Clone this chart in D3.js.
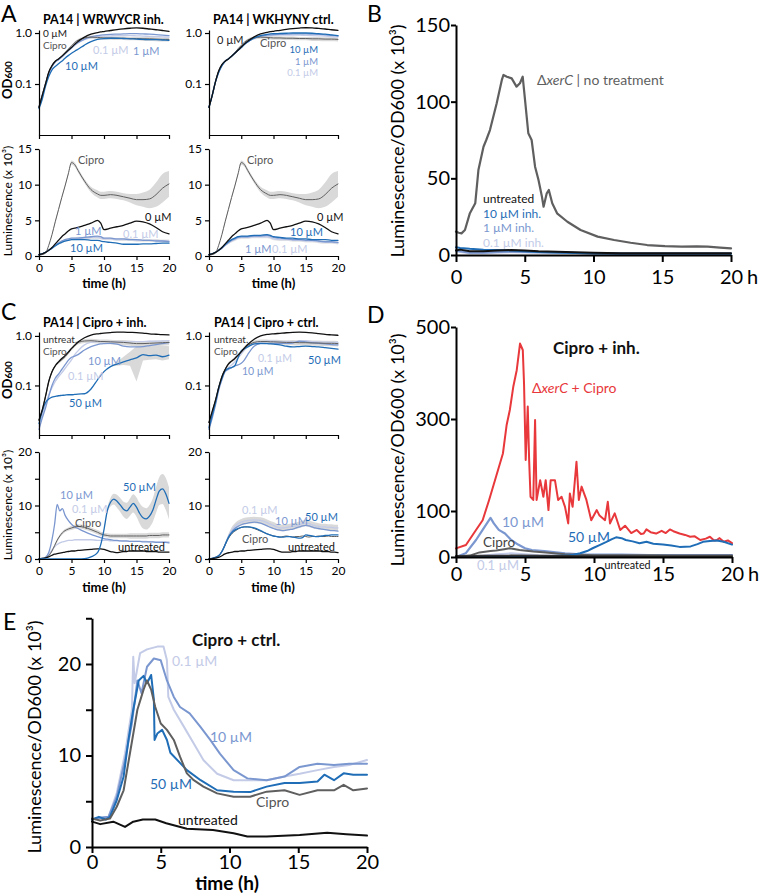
<!DOCTYPE html>
<html><head><meta charset="utf-8">
<script src="https://cdn.jsdelivr.net/npm/d3@7"></script>
<style>body{margin:0;background:#fff}</style>
</head><body><script>
// ---------------- DATA ----------------
const tA = [0,0.5,1,1.5,2,2.5,3,3.5,4,4.5,5,5.5,6,7,8,9,9.5,10,11,12,13,14,15,16,17,18,19,20];
// Panel A OD600 (inhibitor WRWYCR)
const odA_inh_0   = [0.035,0.06,0.10,0.17,0.23,0.28,0.31,0.35,0.40,0.46,0.52,0.60,0.68,0.83,0.95,1.02,1.05,1.07,1.12,1.17,1.21,1.24,1.26,1.24,1.20,1.16,1.12,1.08];
const odA_inh_cip = [0.035,0.06,0.10,0.17,0.23,0.28,0.31,0.35,0.41,0.48,0.56,0.65,0.72,0.80,0.83,0.82,0.81,0.80,0.80,0.79,0.79,0.78,0.78,0.77,0.77,0.76,0.75,0.75];
const odA_inh_1   = [0.035,0.06,0.10,0.16,0.22,0.27,0.30,0.34,0.39,0.45,0.51,0.58,0.65,0.76,0.84,0.89,0.91,0.92,0.94,0.95,0.96,0.97,0.97,0.96,0.95,0.93,0.91,0.89];
const odA_inh_01  = [0.035,0.06,0.10,0.16,0.22,0.27,0.30,0.34,0.39,0.45,0.51,0.58,0.64,0.74,0.81,0.85,0.86,0.87,0.88,0.89,0.89,0.89,0.88,0.87,0.86,0.85,0.84,0.83];
const odA_inh_10  = [0.033,0.05,0.09,0.14,0.19,0.22,0.25,0.28,0.32,0.36,0.40,0.44,0.48,0.58,0.68,0.75,0.77,0.78,0.79,0.79,0.78,0.77,0.76,0.75,0.74,0.74,0.73,0.72];
const odA_cip_sd  = [0,0,0,0,0,0,0,0.01,0.01,0.02,0.02,0.03,0.04,0.05,0.06,0.06,0.06,0.06,0.06,0.06,0.06,0.06,0.06,0.07,0.07,0.07,0.07,0.07];
// Panel A OD600 (control WKHYNY)
const odA_ctl_0   = [0.035,0.06,0.11,0.18,0.24,0.28,0.31,0.35,0.40,0.46,0.53,0.61,0.69,0.84,0.96,1.03,1.06,1.08,1.13,1.18,1.22,1.25,1.27,1.26,1.23,1.20,1.16,1.13];
const odA_ctl_cip = [0.035,0.06,0.11,0.18,0.24,0.28,0.31,0.35,0.41,0.49,0.57,0.66,0.73,0.80,0.83,0.82,0.81,0.80,0.80,0.79,0.79,0.78,0.78,0.77,0.77,0.76,0.76,0.75];
const odA_ctl_10  = [0.035,0.06,0.11,0.17,0.23,0.28,0.31,0.35,0.40,0.46,0.52,0.60,0.67,0.80,0.89,0.94,0.96,0.97,0.98,0.99,1.00,1.00,1.00,0.99,0.97,0.95,0.92,0.89];
const odA_ctl_1   = [0.035,0.06,0.11,0.17,0.23,0.28,0.31,0.35,0.40,0.46,0.52,0.60,0.67,0.79,0.87,0.91,0.92,0.93,0.94,0.95,0.96,0.96,0.96,0.95,0.94,0.92,0.90,0.88];
const odA_ctl_01  = [0.035,0.06,0.11,0.17,0.23,0.28,0.31,0.35,0.40,0.46,0.52,0.60,0.67,0.78,0.85,0.88,0.89,0.90,0.91,0.91,0.91,0.91,0.90,0.89,0.88,0.87,0.85,0.84];
// Panel A luminescence (x10^3)
const lumA_cip    = [0.1,0.2,0.4,1.5,3.0,4.8,6.5,8.2,9.8,11.5,13.1,12.8,12.0,10.5,9.3,8.7,8.5,8.5,8.6,8.5,8.3,8.1,7.9,7.9,8.0,8.6,9.5,10.1];
const lumA_cip_sd = [0,0,0,0,0.1,0.2,0.2,0.2,0.2,0.2,0.3,0.3,0.3,0.3,0.4,0.5,0.5,0.5,0.5,0.5,0.5,0.6,0.8,1.0,1.3,1.7,2.0,1.8];
const lumA_0      = [0.2,0.3,0.5,0.8,1.2,1.7,2.2,2.7,3.1,3.5,3.8,3.9,4.0,4.3,4.6,5.0,4.6,3.7,3.9,4.1,4.3,4.6,4.9,4.8,4.5,4.0,3.4,3.1];
const lumA_inh_1  = [0.2,0.3,0.5,0.8,1.1,1.5,1.8,2.1,2.3,2.4,2.5,2.5,2.5,2.6,2.7,2.8,2.7,2.5,2.5,2.4,2.4,2.3,2.3,2.2,2.2,2.1,2.1,2.0];
const lumA_inh_01 = [0.2,0.3,0.5,0.8,1.1,1.5,1.8,2.0,2.2,2.3,2.4,2.4,2.5,2.5,2.6,2.6,2.5,2.4,2.4,2.3,2.3,2.3,2.2,2.2,2.2,2.2,2.1,2.1];
const lumA_inh_10 = [0.2,0.3,0.5,0.8,1.1,1.4,1.7,1.9,2.1,2.2,2.3,2.3,2.3,2.3,2.2,2.2,2.1,2.0,1.9,1.8,1.65,1.65,1.65,1.7,1.7,1.75,1.8,1.8];
const lumA_ctl_10 = [0.2,0.3,0.5,0.8,1.2,1.6,2.0,2.3,2.5,2.7,2.8,2.8,2.8,2.9,2.9,3.0,2.9,2.7,2.6,2.5,2.5,2.4,2.4,2.3,2.3,2.3,2.2,2.2];
const lumA_ctl_1  = [0.2,0.3,0.5,0.8,1.1,1.5,1.9,2.2,2.4,2.6,2.7,2.7,2.7,2.8,2.8,2.9,2.8,2.6,2.5,2.4,2.3,2.3,2.2,2.2,2.1,2.0,2.0,1.9];
const lumA_ctl_01 = [0.2,0.3,0.5,0.8,1.1,1.5,1.8,2.1,2.3,2.5,2.6,2.6,2.6,2.7,2.7,2.7,2.6,2.4,2.3,2.3,2.2,2.2,2.1,2.1,2.0,1.9,1.9,1.8];
const lumA_01_sd  = [0,0,0,0.05,0.1,0.15,0.15,0.2,0.2,0.2,0.2,0.2,0.2,0.2,0.2,0.2,0.2,0.2,0.2,0.2,0.2,0.2,0.2,0.2,0.2,0.2,0.2,0.2];
// Panel C OD600 (Cipro + inhibitor)
const odC_inh_u   = [0.02,0.032,0.06,0.12,0.19,0.25,0.30,0.35,0.40,0.47,0.56,0.65,0.75,0.92,1.04,1.10,1.12,1.14,1.17,1.19,1.19,1.18,1.17,1.14,1.10,1.08,1.06,1.05];
const odC_inh_cip = [0.02,0.032,0.06,0.12,0.19,0.25,0.29,0.33,0.38,0.45,0.55,0.65,0.73,0.79,0.80,0.78,0.77,0.77,0.76,0.75,0.74,0.72,0.70,0.70,0.71,0.72,0.73,0.74];
const odC_inh_01  = [0.015,0.025,0.04,0.065,0.09,0.12,0.15,0.18,0.22,0.27,0.33,0.42,0.50,0.66,0.74,0.77,0.77,0.77,0.77,0.76,0.76,0.76,0.77,0.77,0.78,0.78,0.79,0.80];
const odC_inh_10  = [0.013,0.022,0.035,0.06,0.10,0.14,0.17,0.21,0.26,0.32,0.37,0.39,0.42,0.52,0.61,0.67,0.69,0.70,0.71,0.68,0.62,0.60,0.60,0.61,0.64,0.67,0.70,0.73];
const odC_inh_50  = [0.017,0.03,0.045,0.053,0.058,0.06,0.062,0.063,0.064,0.065,0.065,0.066,0.067,0.068,0.085,0.13,0.16,0.19,0.24,0.27,0.30,0.33,0.36,0.42,0.40,0.41,0.38,0.41];
const odC_50_lo   = [0.017,0.03,0.045,0.053,0.058,0.06,0.062,0.063,0.064,0.065,0.065,0.066,0.067,0.068,0.085,0.13,0.16,0.19,0.24,0.25,0.26,0.25,0.12,0.32,0.33,0.34,0.32,0.34];
const odC_50_hi   = [0.017,0.03,0.045,0.053,0.058,0.06,0.062,0.063,0.064,0.065,0.065,0.066,0.067,0.068,0.085,0.13,0.16,0.19,0.24,0.30,0.38,0.48,0.62,0.70,0.68,0.66,0.64,0.62];
const odC_cip_sd  = [0,0,0,0,0.01,0.01,0.02,0.02,0.03,0.03,0.04,0.05,0.06,0.07,0.08,0.08,0.08,0.08,0.08,0.08,0.09,0.09,0.09,0.09,0.09,0.09,0.09,0.09];
// Panel C OD600 (Cipro + control)
const odC_ctl_u   = [0.018,0.03,0.05,0.09,0.15,0.21,0.27,0.31,0.35,0.41,0.48,0.57,0.67,0.86,1.00,1.07,1.09,1.10,1.13,1.16,1.18,1.19,1.18,1.15,1.11,1.07,1.05,1.03];
const odC_ctl_cip = [0.018,0.03,0.05,0.09,0.15,0.21,0.27,0.31,0.35,0.41,0.48,0.57,0.64,0.74,0.77,0.77,0.76,0.76,0.75,0.74,0.74,0.73,0.73,0.72,0.72,0.71,0.71,0.70];
const odC_ctl_50  = [0.014,0.025,0.045,0.09,0.14,0.20,0.22,0.23,0.25,0.36,0.50,0.55,0.60,0.69,0.71,0.70,0.69,0.68,0.66,0.62,0.60,0.61,0.62,0.61,0.60,0.58,0.56,0.54];
const odC_ctl_10  = [0.013,0.022,0.04,0.08,0.13,0.19,0.21,0.23,0.25,0.26,0.28,0.33,0.42,0.62,0.70,0.71,0.71,0.71,0.71,0.71,0.72,0.78,0.76,0.73,0.71,0.69,0.67,0.66];
const odC_ctl_01  = [0.015,0.025,0.045,0.085,0.14,0.20,0.23,0.26,0.30,0.36,0.43,0.52,0.60,0.72,0.76,0.78,0.78,0.78,0.77,0.77,0.77,0.78,0.80,0.77,0.76,0.75,0.74,0.74];
// Panel C luminescence
const tCL = [0,0.5,1,1.5,2,2.4,2.8,3.2,3.6,4,4.5,5,5.5,6,7,8,9,9.5,10,10.5,11,11.5,12,12.5,13,13.5,14,14.5,15,15.5,16,16.5,17,17.5,18,18.5,19,19.5,20];
const lumC_inh_10 = [0,0.1,0.3,1.2,3.6,6.5,10.2,9.0,9.4,8.2,7.2,6.5,6.0,5.7,5.1,4.6,4.2,4.0,3.8,3.7,3.6,3.5,3.5,3.4,3.4,3.4,3.3,3.3,3.3,3.3,3.2,3.2,3.2,3.2,3.1,3.1,3.1,3.1,3.0];
const lumC_inh_01 = [0,0.1,0.2,0.8,1.7,2.3,2.7,3.0,3.2,3.3,3.5,3.5,3.6,3.6,3.6,3.6,3.5,3.5,3.5,3.5,3.4,3.4,3.4,3.4,3.3,3.3,3.3,3.3,3.3,3.3,3.3,3.3,3.2,3.2,3.2,3.2,3.2,3.2,3.2];
const lumC_inh_cip= [0,0.1,0.2,0.6,1.5,2.5,3.5,4.3,4.9,5.3,5.6,5.8,6.0,6.1,5.9,5.5,5.0,4.7,4.5,4.4,4.3,4.3,4.3,4.3,4.3,4.3,4.3,4.3,4.3,4.3,4.3,4.3,4.4,4.4,4.4,4.4,4.5,4.5,4.5];
const lumC_cip_sd = [0,0,0,0.1,0.2,0.3,0.3,0.3,0.3,0.3,0.3,0.4,0.4,0.4,0.4,0.4,0.4,0.4,0.4,0.4,0.4,0.4,0.4,0.4,0.4,0.4,0.5,0.5,0.5,0.5,0.5,0.5,0.5,0.5,0.5,0.5,0.5,0.5,0.5];
const lumC_inh_u  = [0,0.1,0.2,0.4,0.7,0.9,1.0,1.1,1.2,1.3,1.4,1.5,1.5,1.6,1.7,1.8,1.9,1.9,1.8,1.6,1.4,1.3,1.2,1.3,1.4,1.4,1.5,1.5,1.5,1.5,1.5,1.4,1.4,1.4,1.4,1.3,1.3,1.3,1.3];
const lumC_inh_50 = [0,0,0,0,0,0,0,0,0,0,0,0,0,0,0.05,0.4,1.2,2.7,5.5,9.0,10.6,11.2,10.8,10.1,9.3,9.0,9.7,10.4,9.7,8.5,7.7,7.5,8.0,9.1,11.0,12.7,13.1,12.2,10.4];
const lumC_50_sd  = [0,0,0,0,0,0,0,0,0,0,0,0,0,0,0,0,0,0,0.2,0.5,0.8,1.0,1.2,1.3,1.4,1.5,1.6,1.7,1.8,1.9,2.0,2.0,2.1,2.2,2.4,2.6,2.8,3.0,3.0];
const lumC_ctl_01 = [0,0.1,0.3,0.6,1.4,2.4,3.6,4.7,5.5,6.1,6.6,6.9,7.1,7.2,7.3,7.2,6.8,6.5,6.3,6.0,5.8,5.8,5.9,6.0,6.1,6.2,6.4,6.6,6.7,6.6,6.4,6.2,6.1,6.0,6.0,5.9,5.9,5.8,5.8];
const lumC_ctl_10 = [0,0.1,0.3,0.6,1.4,2.4,3.5,4.5,5.2,5.7,6.1,6.4,6.6,6.7,6.9,6.7,6.2,5.9,5.7,5.5,5.4,5.3,5.4,5.5,5.6,5.8,6.0,6.2,6.3,6.2,6.0,5.8,5.7,5.6,5.5,5.4,5.3,5.3,5.2];
const lumC_ctl_50 = [0,0.1,0.3,0.6,1.4,2.4,3.5,4.4,5.0,5.4,5.7,5.9,6.0,6.0,5.8,5.3,4.7,4.5,4.3,4.2,4.1,4.1,4.2,4.2,4.1,4.0,3.9,4.0,4.5,4.4,4.3,4.2,4.2,4.3,4.4,4.4,4.5,4.5,4.5];
const lumC_ctl_cip= [0,0.1,0.3,0.6,1.4,2.4,3.4,4.2,4.8,5.2,5.6,5.9,6.0,6.0,5.7,5.2,4.7,4.5,4.3,4.2,4.1,4.2,4.3,4.2,4.1,4.2,4.2,4.3,4.2,4.1,4.2,4.2,4.3,4.2,4.2,4.3,4.2,4.2,4.2];
const lumC_ctl_u  = [0,0.05,0.15,0.3,0.6,0.9,1.1,1.2,1.3,1.4,1.4,1.5,1.5,1.6,1.7,1.8,1.9,1.9,1.8,1.6,1.4,1.3,1.3,1.3,1.4,1.4,1.5,1.5,1.5,1.5,1.5,1.5,1.5,1.4,1.4,1.4,1.3,1.3,1.2];
const lumC_ctl_sd = [0,0,0,0.1,0.2,0.3,0.4,0.5,0.6,0.6,0.6,0.6,0.6,0.6,0.6,0.6,0.6,0.6,0.6,0.6,0.6,0.6,0.6,0.6,0.6,0.6,0.6,0.6,0.6,0.6,0.6,0.6,0.6,0.6,0.6,0.6,0.6,0.6,0.6];
// Panel B (Luminescence/OD600 x10^3)
const tB   = [0,0.2,0.4,0.65,1.0,1.4,1.63,2.0,2.2,2.47,2.96,3.33,3.45,3.7,4.05,4.4,4.65,4.85,5.0,5.26,5.5,5.75,6.0,6.25,6.37,6.6,6.75,7.0,7.35,8.1,9.06,10.3,11.5,12.7,13.9,15.2,16.4,17.5,18.3,19.2,20];
const bXerC= [15.2,14.5,14.1,16.3,27,33.7,55.4,70.6,75,81.5,99,114,117.4,116.3,115.2,109.8,112,116.3,103,79.4,75,57.6,48.9,38,31.5,40.2,42.4,33.7,27.2,21.7,16.3,12,9.8,8.0,6.5,5.8,5.4,5.6,5.4,4.8,4.35];
const tB2  = [0,0.3,1,2,3,4,5,6,8,10,12,14,16,18,20];
const bUntr  = [3,3.5,2.5,2.5,3,3.2,3,2.5,2,1.5,1.2,1.2,1.2,1.2,1.2];
const bInh10 = [5,4.5,4,3.5,3.2,3,2.5,2,1.5,1,0.8,0.8,0.8,0.8,0.8];
const bInh1  = [3,2.5,1.5,1.5,2,2.2,2,1.8,1.5,1.2,1,1,1,1,1];
const bInh01 = [2.5,2,1.2,1.2,1.5,1.8,1.6,1.5,1.3,1.1,1,1,1,1,1];
// Panel D
const tDr = [0,0.72,1.45,1.93,2.4,2.9,3.4,3.67,3.9,4.15,4.4,4.64,4.84,4.93,5.05,5.2,5.3,5.4,5.6,5.73,5.84,6.1,6.33,6.5,6.7,6.86,7.17,7.4,7.65,7.9,8.13,8.25,8.45,8.73,8.9,9.1,9.45,9.8,10.2,10.4,10.8,11.0,11.16,11.5,11.9,12.25,12.7,13.1,13.4,13.6,13.8,14.1,14.5,14.9,15.2,15.5,15.75,16.2,16.6,16.97,17.3,17.7,18.1,18.4,18.7,18.9,19.1,19.4,19.7,20];
const dRed = [18.8,26,58.7,80,124,174.6,225,287,319.6,370,406,464,450,377,211,327,211,131,124,298,124,167,131,167,102,167,167,124,131,109,73,138,109,207,124,153,124,80,102,90,80,120,73,95,58.7,68,52,58.7,50,51,60,54,51,57,52,60,56,51,48,44,45,37,40,44,36,37,41,33,36,30];
const tD10 = [0,0.7,1.45,1.93,2.5,2.74,3.1,3.55,4,4.5,5,5.5,6.4,7.9,9,10,12,14,16,18,20];
const d10  = [0,8,37,59,85,73,59,51,37,27,19,15,13,8,6,5,5,4,4,4,4];
const tDc  = [0,1,1.7,2.5,2.9,3.5,3.9,4.6,5.6,6.5,7.9,9,10,12,14,16,18,20];
const dCip = [0,3,10,13,14,17,19,15,12,10,6,5,4,4,4,3,3,3];
const tD01 = [0,1,2,3,4,5,6,8,10,12,14,16,18,20];
const d01  = [0,1,3,6,8,6,4,3,2,2,2,2,2,2];
const tDu  = [0,2,4,6,8,10,12,14,16,18,20];
const dUn  = [2,2.5,3,2.5,2,1.5,1.5,1.2,1.2,1,1];
const tD50 = [0,2,4,6,7,8,8.5,9,9.5,9.9,10.4,10.9,11.3,11.6,12,12.3,12.8,13.3,13.8,14.3,15,15.6,16.2,17,17.5,17.9,18.4,18.9,19.4,20];
const d50  = [0,0,0,1,2,3,5,8,13,19,26,33,39,42.7,41,37,34,30,33,29,27,25,22,23,28,33,35,36,33,27];
// Panel E
const tEu = [0,0.6,1.55,2.4,3.0,3.7,4.6,5.4,6.9,8.8,10.3,11.3,12.7,15.1,17.1,18.5,20];
const eUn = [2.77,2.5,2.77,2.2,2.77,3.0,3.0,2.6,2.0,1.85,1.5,1.15,1.15,1.3,1.55,1.4,1.25];
const tEc = [0,0.6,1.3,1.8,2.3,2.8,3.3,3.75,4.0,4.3,4.6,5.0,5.45,5.95,6.4,6.9,7.4,8.1,9.1,10.3,11.5,12.7,14.0,15.1,16.4,17.6,18.3,19.0,20];
const eCip= [3.1,2.9,3.1,4.4,6.2,10.6,15.0,17.2,18.2,17.2,15.3,13.5,12.8,11.7,9.87,8.05,7.3,6.6,5.86,5.5,5.5,6.05,6.2,5.7,6.2,6.2,6.8,6.2,6.4];
const tE50= [0,0.5,1.0,1.3,1.8,2.3,2.65,3.0,3.4,3.75,4.0,4.3,4.5,4.55,4.75,5.1,5.45,5.7,6.4,6.9,7.9,9.1,10.3,11.5,12.7,14,15.1,16.4,16.9,17.6,18.3,19,20];
const e50 = [3.0,3.3,3.0,3.3,5.1,7.7,11.7,15.0,18.2,18.7,17.9,18.8,16.1,11.7,12.4,12.8,11.7,10.3,9.2,8.4,7.3,6.2,6.05,6.0,6.6,7.0,7.0,7.15,7.9,7.3,8.05,7.9,7.9];
const tE10= [0,0.6,1.2,1.8,2.4,2.9,3.3,3.6,4.0,4.5,5.0,5.45,5.95,6.4,7.1,7.9,8.6,9.3,10.3,11.3,12.7,14.0,15.1,16.4,17.6,18.7,20];
const e10 = [3.0,3.2,3.3,5.5,9.5,13.5,18.2,16.8,19.7,20.6,20.4,18.2,16.4,15.3,14.6,13.1,11.7,10.2,8.4,7.5,7.3,7.7,8.75,9.1,8.95,9.1,9.1];
const tE01= [0,0.6,1.2,1.8,2.4,2.9,3.0,3.1,3.5,4.0,4.75,5.2,5.45,5.55,5.95,6.7,7.4,8.1,9.1,10.3,11.5,12.7,14,15.1,16.4,17.6,18.7,20];
const e01 = [3.0,3.2,3.3,5.9,10.2,15.0,20.8,17.9,21.2,21.6,21.9,21.9,20.4,16.4,15.0,13.1,11.3,9.5,8.0,7.3,7.3,7.3,7.7,8.0,8.4,8.75,8.95,9.5];
// tick values
const xTicks = [0,5,10,15,20];
const odTicks = [0.1,1];
const lumATicks = [0,5,10,15];
const lumCTicks = [0,5,10,15,20];
const bTicks = [0,50,100,150];
const dTicks = [0,100,300,500];
const eTicks = [0,5,10,15,20,25];

// ---------------- DRAWING ----------------
const FONT = "Lato, 'Open Sans', 'DejaVu Sans', sans-serif";
const COL = {black:"#111", gray:"#5f5f5f", blue:"#1f6db6", mid:"#7b97d0", light:"#c3cbe7", red:"#e8383b", band:"#d9d9d9"};
const svg = d3.select("body").append("svg").attr("width",760).attr("height",895).style("font-family",FONT);

function pts(t,v){ return t.map((d,i)=>[d,v[i]]); }
function line(x,y,t,v,color,w,curve){
  svg.append("path").datum(pts(t,v)).attr("fill","none").attr("stroke",color).attr("stroke-width",w)
    .attr("stroke-linejoin","round").attr("stroke-linecap","round")
    .attr("d", d3.line().x(d=>x(d[0])).y(d=>y(d[1])).curve(curve||d3.curveLinear));
}
function band(x,y,t,lo,hi,color,curve){
  const data=t.map((d,i)=>[d,lo[i],hi[i]]);
  svg.append("path").datum(data).attr("fill",color).attr("stroke","none")
    .attr("d", d3.area().x(d=>x(d[0])).y0(d=>y(d[1])).y1(d=>y(d[2])).curve(curve||d3.curveLinear));
}
function sdBand(x,y,t,v,sd,color,curve){
  band(x,y,t,v.map((d,i)=>d-sd[i]),v.map((d,i)=>d+sd[i]),color,curve);
}
function styleAx(g,o){
  g.attr("font-family",FONT).attr("font-size",o.fs);
  g.select(".domain").attr("stroke","#000").attr("stroke-width",o.sw);
  g.selectAll(".tick line").attr("stroke","#000").attr("stroke-width",o.sw);
  g.selectAll(".tick text").attr("fill","#000");
}
function yAxis(xPos,y,vals,fmt,o){
  const g=svg.append("g").attr("transform",`translate(${xPos},0)`)
    .call(d3.axisLeft(y).tickValues(vals).tickFormat(fmt).tickSize(o.ts).tickSizeOuter(0).tickPadding(o.tp));
  styleAx(g,o); return g;
}
function xAxis(yPos,x,vals,fmt,o){
  const g=svg.append("g").attr("transform",`translate(0,${yPos})`)
    .call(d3.axisBottom(x).tickValues(vals).tickFormat(fmt).tickSize(o.ts).tickSizeOuter(0).tickPadding(o.tp));
  styleAx(g,o); return g;
}
function text(x,y,s,color,fs,o={}){
  const t=svg.append("text").attr("x",x).attr("y",y).attr("fill",color).attr("font-size",fs).attr("font-family",FONT);
  if(o.bold) t.attr("font-weight","bold");
  if(o.anchor) t.attr("text-anchor",o.anchor);
  if(s!==null) t.text(s);
  return t;
}
function vtext(x,y,s,fs,o={}){
  const t=svg.append("text").attr("transform",`translate(${x},${y}) rotate(-90)`).attr("text-anchor","middle")
    .attr("font-size",fs).attr("font-family",FONT).attr("fill","#000");
  if(o.bold) t.attr("font-weight","bold");
  if(s!==null) t.text(s);
  return t;
}
function odLabel(x,y){
  const t=vtext(x,y,null,13,{bold:true}); t.append("tspan").text("OD"); t.append("tspan").attr("font-size",10).text("600");
}
const um = "\u00B5M";
const small = {fs:12, sw:1.2, ts:4, tp:3};
const fmtOD = d3.format(".1f");
const noLab = ()=>"";
const curveS = d3.curveMonotoneX;

// scales
const xAL = d3.scaleLinear([0,20],[39,169]);
const xAR = d3.scaleLinear([0,20],[209,338]);
const yODA = d3.scaleLog([0.01,1.146],[135,30]);
const yLA  = d3.scaleLinear([0,15],[256,149]);
const yODC = d3.scaleLog([0.01,1.2],[435,332]);
const yLC  = d3.scaleLinear([0,20],[559,452]);
const xB = d3.scaleLinear([0,20],[456,731]);
const yB = d3.scaleLinear([0,150],[255,25]);
const xD = d3.scaleLinear([0,20],[456,732]);
const yD = d3.scaleLinear([0,500],[557,327]);
const xE = d3.scaleLinear([0,20],[92,367]);
const yE = d3.scaleLinear([0,25],[847,618.25]);

// ----- Panel A: OD -----
[[xAL,odA_inh_0,odA_inh_cip,odA_inh_1,odA_inh_01,odA_inh_10],[xAR,odA_ctl_0,odA_ctl_cip,odA_ctl_1,odA_ctl_01,odA_ctl_10]].forEach(([x,v0,vc,v1,v01,v10])=>{
  sdBand(x,yODA,tA,vc,odA_cip_sd,COL.band,curveS);
  line(x,yODA,tA,v01,COL.light,1.3,curveS);
  line(x,yODA,tA,v1,COL.mid,1.3,curveS);
  line(x,yODA,tA,vc,COL.gray,1,curveS);
  line(x,yODA,tA,v10,COL.blue,1.3,curveS);
  line(x,yODA,tA,v0,COL.black,1.3,curveS);
  yAxis(x(0),yODA,odTicks,fmtOD,small);
  xAxis(135,x,xTicks,noLab,small);
});
// ----- Panel A: luminescence -----
[[xAL,lumA_inh_1,lumA_inh_01,lumA_inh_10],[xAR,lumA_ctl_1,lumA_ctl_01,lumA_ctl_10]].forEach(([x,v1,v01,v10])=>{
  sdBand(x,yLA,tA,lumA_cip,lumA_cip_sd,COL.band,curveS);
  sdBand(x,yLA,tA,v01,lumA_01_sd,"#e4e4e4",curveS);
  line(x,yLA,tA,v01,COL.light,1.3,curveS);
  line(x,yLA,tA,v1,COL.mid,1.3,curveS);
  line(x,yLA,tA,v10,COL.blue,1.3,curveS);
  line(x,yLA,tA,lumA_cip,COL.gray,1,curveS);
  line(x,yLA,tA,lumA_0,COL.black,1.3,curveS);
  yAxis(x(0),yLA,lumATicks,d3.format("d"),small);
  xAxis(256,x,xTicks,d3.format("d"),small);
  text((x(0)+x(20))/2,288,"time (h)","#000",13,{bold:true,anchor:"middle"});
});
odLabel(12,80);
vtext(12,201,"Luminescence (x 10\u00B3)",12);
text(1,22,"A","#000",23);
text(43,23.5,"PA14 | WRWYCR inh.","#000",12.5,{bold:true});
text(213,23.5,"PA14 | WKHYNY ctrl.","#000",12.5,{bold:true});
text(43,37,"0 "+um,"#222",10); text(43,49,"Cipro","#555",10);
text(93,54,"0.1 "+um,COL.light,11); text(133,55,"1 "+um,COL.mid,11); text(65,70,"10 "+um,COL.blue,11);
text(217,44,"0 "+um,"#222",11); text(260,47,"Cipro","#555",11);
text(318,53,"10 "+um,COL.blue,9.5,{anchor:"end"}); text(318,64.5,"1 "+um,COL.mid,9.5,{anchor:"end"}); text(318,76,"0.1 "+um,COL.light,9.5,{anchor:"end"});
text(78,164,"Cipro","#555",11); text(145,221,"0 "+um,"#111",11);
text(75,235,"1 "+um,COL.mid,11); text(123,238,"0.1 "+um,COL.light,11); text(70,252,"10 "+um,COL.blue,11);
text(247,164,"Cipro","#555",11); text(317,221,"0 "+um,"#111",11);
text(290,236,"10 "+um,COL.blue,11); text(245,253,"1 "+um,COL.mid,11); text(272,253,"0.1 "+um,COL.light,11);

// ----- Panel C: OD -----
band(xAL,yODC,tA,odC_50_lo,odC_50_hi,COL.band,d3.curveLinear);
sdBand(xAL,yODC,tA,odC_inh_cip,odC_cip_sd,COL.band,curveS);
line(xAL,yODC,tA,odC_inh_01,COL.light,1.3,curveS);
line(xAL,yODC,tA,odC_inh_10,COL.mid,1.3,curveS);
line(xAL,yODC,tA,odC_inh_cip,COL.gray,1,curveS);
line(xAL,yODC,tA,odC_inh_50,COL.blue,1.3,curveS);
line(xAL,yODC,tA,odC_inh_u,COL.black,1.3,curveS);
yAxis(39,yODC,odTicks,fmtOD,small); xAxis(435,xAL,xTicks,noLab,small);
sdBand(xAR,yODC,tA,odC_ctl_cip,odC_cip_sd,COL.band,curveS);
line(xAR,yODC,tA,odC_ctl_01,COL.light,1.3,curveS);
line(xAR,yODC,tA,odC_ctl_10,COL.mid,1.3,curveS);
line(xAR,yODC,tA,odC_ctl_cip,COL.gray,1,curveS);
line(xAR,yODC,tA,odC_ctl_50,COL.blue,1.3,curveS);
line(xAR,yODC,tA,odC_ctl_u,COL.black,1.3,curveS);
yAxis(209,yODC,odTicks,fmtOD,small); xAxis(435,xAR,xTicks,noLab,small);
// ----- Panel C: luminescence -----
const fmtC = d=> (d%10===0? d : "");
sdBand(xAL,yLC,tCL,lumC_inh_50,lumC_50_sd,COL.band,curveS);
sdBand(xAL,yLC,tCL,lumC_inh_cip,lumC_cip_sd,COL.band,curveS);
line(xAL,yLC,tCL,lumC_inh_01,COL.light,1.3,curveS);
line(xAL,yLC,tCL,lumC_inh_10,COL.mid,1.3,curveS);
line(xAL,yLC,tCL,lumC_inh_cip,COL.gray,1,curveS);
line(xAL,yLC,tCL,lumC_inh_u,COL.black,1.3,curveS);
line(xAL,yLC,tCL,lumC_inh_50,COL.blue,1.3,curveS);
yAxis(39,yLC,lumCTicks,fmtC,small); xAxis(559,xAL,xTicks,d3.format("d"),small);
sdBand(xAR,yLC,tCL,lumC_ctl_01,lumC_ctl_sd,COL.band,curveS);
line(xAR,yLC,tCL,lumC_ctl_01,COL.light,1.3,curveS);
line(xAR,yLC,tCL,lumC_ctl_10,COL.mid,1.3,curveS);
line(xAR,yLC,tCL,lumC_ctl_cip,COL.gray,1,curveS);
line(xAR,yLC,tCL,lumC_ctl_50,COL.blue,1.3,curveS);
line(xAR,yLC,tCL,lumC_ctl_u,COL.black,1.3,curveS);
yAxis(209,yLC,lumCTicks,fmtC,small); xAxis(559,xAR,xTicks,d3.format("d"),small);
text(104,592,"time (h)","#000",13,{bold:true,anchor:"middle"});
text(273,592,"time (h)","#000",13,{bold:true,anchor:"middle"});
odLabel(12,380);
vtext(12,505,"Luminescence (x 10\u00B3)",12);
text(1,320,"C","#000",23);
text(43,327,"PA14 | Cipro + inh.","#000",12.5,{bold:true});
text(214,327,"PA14 | Cipro + ctrl.","#000",12.5,{bold:true});
text(43,343,"untreat.","#333",10); text(43,355,"Cipro","#555",10);
text(88,365,"10 "+um,COL.mid,11); text(68,380,"0.1 "+um,COL.light,11); text(69,407,"50 "+um,COL.blue,11);
text(214,343,"untreat.","#333",10); text(214,355,"Cipro","#555",10);
text(258,362,"0.1 "+um,COL.light,10.5); text(242,375,"10 "+um,COL.mid,10.5); text(308,364,"50 "+um,COL.blue,11);
text(60,499,"10 "+um,COL.mid,11); text(72,513,"0.1 "+um,COL.light,11); text(75,527,"Cipro","#555",11);
text(118,551,"untreated","#111",11); text(123,491,"50 "+um,COL.blue,11);
text(242,514,"0.1 "+um,COL.light,11); text(275,525,"10 "+um,COL.mid,11); text(305,521,"50 "+um,COL.blue,11);
text(242,543,"Cipro","#555",11); text(288,551,"untreated","#111",11);

// ----- Panel B -----
const big = {fs:20, sw:2, ts:5, tp:1};
line(xB,yB,tB,bXerC,COL.gray,2.2);
line(xB,yB,tB2,bInh01,COL.light,2);
line(xB,yB,tB2,bInh1,COL.mid,2);
line(xB,yB,tB2,bInh10,COL.blue,2);
line(xB,yB,tB2,bUntr,COL.black,2);
yAxis(456,yB,bTicks,d3.format("d"),big);
const gBx = xAxis(255,xB,xTicks,d3.format("d"),{fs:20,sw:2,ts:7,tp:8});
gBx.append("text").attr("x",xB(20)+16).attr("y",15).attr("dy","0.71em").attr("fill","#000").attr("text-anchor","start").text("h");
vtext(404,141,"Luminescence/OD600 (x 10\u00B3)",18);
text(367,22,"B","#000",23);
{ const t=text(537,85,null,COL.gray,14); t.append("tspan").text("\u0394"); t.append("tspan").attr("font-style","italic").text("xerC"); t.append("tspan").text(" | no treatment"); }
text(483,203,"untreated","#111",12);
text(483,217.5,"10 "+um+" inh.",COL.blue,12);
text(483,232,"1 "+um+" inh.",COL.mid,12);
text(483,246.5,"0.1 "+um+" inh.",COL.light,12);

// ----- Panel D -----
line(xD,yD,tDr,dRed,COL.red,2);
line(xD,yD,tD01,d01,COL.light,2);
line(xD,yD,tD10,d10,COL.mid,2.2);
line(xD,yD,tDc,dCip,COL.gray,2);
line(xD,yD,tD50,d50,COL.blue,2);
line(xD,yD,tDu,dUn,"#333",2);
yAxis(456,yD,dTicks,d3.format("d"),big);
const gDx = xAxis(557,xD,xTicks,d3.format("d"),{fs:20,sw:2,ts:6,tp:4});
gDx.append("text").attr("x",xD(20)+16).attr("y",10).attr("dy","0.71em").attr("fill","#000").attr("text-anchor","start").text("h");
vtext(404,450,"Luminescence/OD600 (x 10\u00B3)",18);
text(367,323,"D","#000",23);
text(553,354,"Cipro + inh.","#111",17,{bold:true});
{ const t=text(532,393,null,COL.red,14); t.append("tspan").text("\u0394"); t.append("tspan").attr("font-style","italic").text("xerC"); t.append("tspan").text(" + Cipro"); }
text(502,527,"10 "+um,COL.mid,14);
text(483,547,"Cipro","#444",13.5);
text(477,570,"0.1 "+um,COL.light,13);
text(604.5,569,"untreated","#111",10.8);
text(568,542,"50 "+um,COL.blue,14);

// ----- Panel E -----
line(xE,yE,tE01,e01,COL.light,2);
line(xE,yE,tE10,e10,COL.mid,2);
line(xE,yE,tE50,e50,COL.blue,2);
line(xE,yE,tEc,eCip,COL.gray,2);
line(xE,yE,tEu,eUn,COL.black,2);
yAxis(92,yE,eTicks,fmtC,{fs:20,sw:2,ts:6,tp:5});
xAxis(847,xE,xTicks,d3.format("d"),{fs:20,sw:2,ts:6,tp:2});
text(227,890,"time (h)","#000",19,{bold:true,anchor:"middle"});
vtext(41,737,"Luminescence/OD600 (x 10\u00B3)",18);
text(3,630,"E","#000",23);
text(192,646,"Cipro + ctrl.","#111",17,{bold:true});
text(172,666,"0.1 "+um,COL.light,14);
text(210,742,"10 "+um,COL.mid,14);
text(150,789,"50 "+um,COL.blue,14);
text(256,807,"Cipro","#555",14);
text(178,825,"untreated","#111",14);
</script></body></html>
